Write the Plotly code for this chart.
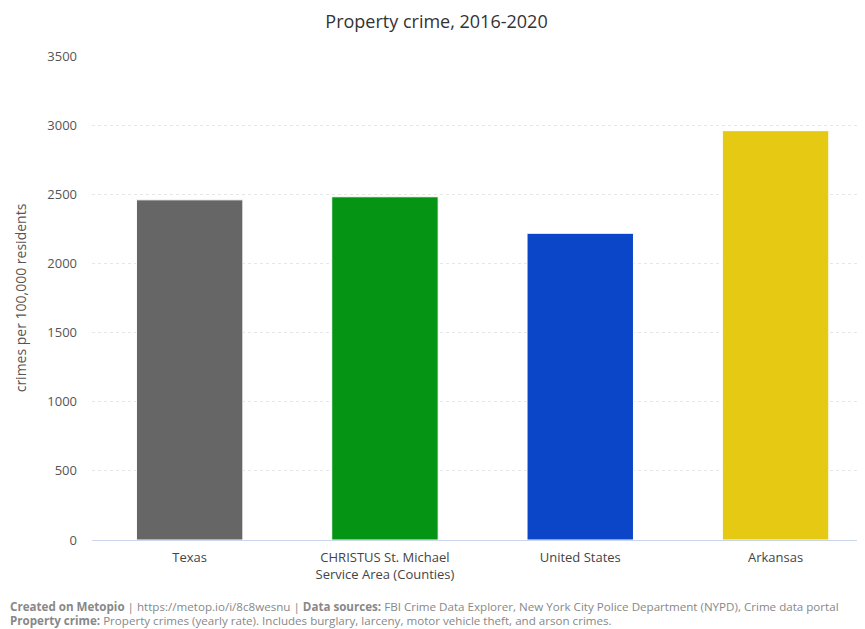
import plotly.graph_objects as go

categories = ["Texas", "CHRISTUS St. Michael<br>Service Area (Counties)", "United States", "Arkansas"]
values = [2460, 2482, 2218, 2960]
colors = ["#666666", "#059413", "#0b46c8", "#e5c912"]

W, H = 857, 621
L, R, T, B = 84, 0, 48, 89
plot_w = W - L - R

fig = go.Figure()
fig.add_trace(go.Bar(
    x=list(range(len(categories))), y=values,
    marker=dict(color=colors, line=dict(color="#ffffff", width=1)),
    width=0.545, hoverinfo="y",
))

fig.update_layout(
    width=W, height=H,
    paper_bgcolor="white", plot_bgcolor="white",
    margin=dict(l=L, r=R, t=T, b=B),
    showlegend=False,
    font=dict(family="Open Sans, sans-serif", color="#555555"),
    title=dict(text="Property crime, 2016-2020", x=0.5, xanchor="center",
               y=1 - 13.5 / H, yanchor="middle",
               font=dict(size=18, color="#333333")),
    xaxis=dict(
        tickmode="array", tickvals=list(range(len(categories))), ticktext=categories,
        range=[-0.5, 3.458], showgrid=False, zeroline=False,
        showline=True, linecolor="#ccd6eb", linewidth=1,
        tickfont=dict(size=13, color="#444444"), ticks="",
        ticklabelstandoff=5,
    ),
    yaxis=dict(
        range=[0, 3500], dtick=500, tickformat="d",
        showgrid=True, gridcolor="#e6e6e6", griddash="dot", gridwidth=1,
        zeroline=False, tickfont=dict(size=13, color="#555555"),
        ticklabelstandoff=14,
        title=dict(text="crimes per 100,000 residents", font=dict(size=14, color="#555555"), standoff=17),
    ),
    annotations=[
        dict(x=-L / plot_w, y=0, xref="paper", yref="paper", xanchor="left", yanchor="middle",
             yshift=-66, showarrow=False, align="left", font=dict(size=11.6, color="#888888"),
             text="<b>Created on Metopio</b> | https://metop.io/i/8c8wesnu | <b>Data sources:</b> FBI Crime Data Explorer, New York City Police Department (NYPD), Crime data portal"),
        dict(x=-L / plot_w, y=0, xref="paper", yref="paper", xanchor="left", yanchor="middle",
             yshift=-80, showarrow=False, align="left", font=dict(size=11.6, color="#888888"),
             text="<b>Property crime:</b> Property crimes (yearly rate). Includes burglary, larceny, motor vehicle theft, and arson crimes."),
    ],
)

fig.write_html("out.html")
